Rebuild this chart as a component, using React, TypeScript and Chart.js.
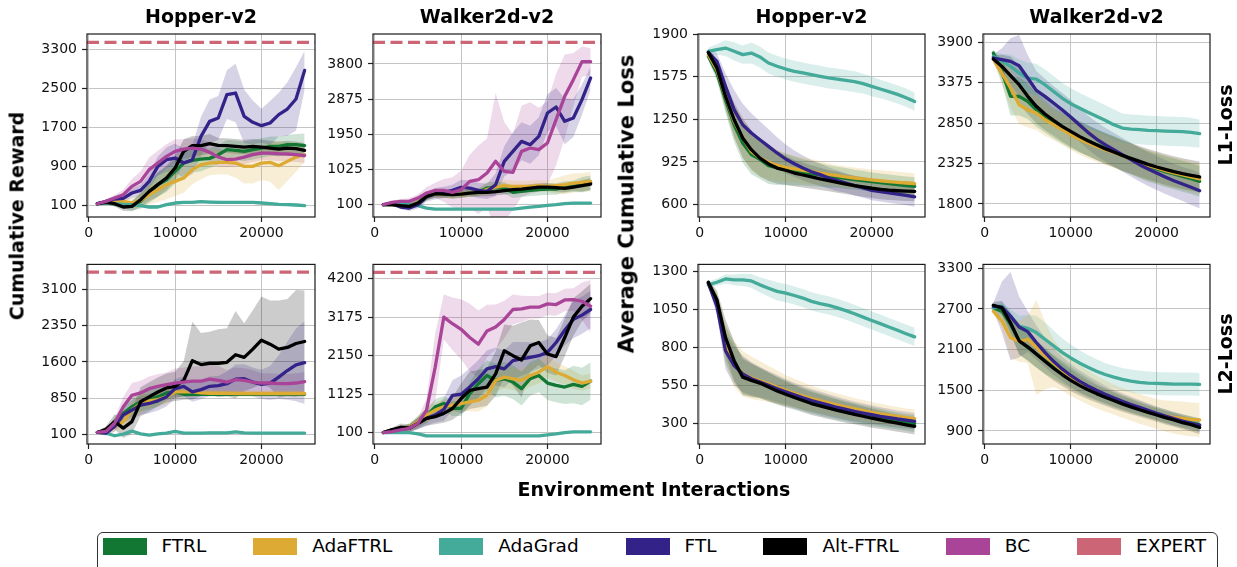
import React, { useEffect, useRef } from "react";
import { Chart, registerables } from "chart.js";

Chart.register(...registerables);
Chart.defaults.font.family = "'DejaVu Sans', sans-serif";

// ---------------- DATA ----------------
const X = [1000, 2000, 3000, 4000, 5000, 6000, 7000, 8000, 9000, 10000, 11000, 12000, 13000, 14000, 15000, 16000, 17000, 18000, 19000, 20000, 21000, 22000, 23000, 24000, 25000];
const X_MIN = -200;
const X_MAX = 26200;
const X_TICKS = [0, 10000, 20000];

const HOPPER_EXPERT = 3450;
const WALKER_EXPERT = 4370;

// Panel A: Hopper reward, L1-loss row
const A_TICKS = [100, 900, 1700, 2500, 3300];
const A_FTRL = [140, 168, 141, 120, 100, 189, 360, 531, 633, 804, 975, 1030, 1057, 1071, 1146, 1249, 1235, 1215, 1249, 1283, 1317, 1317, 1351, 1351, 1331];
const A_ADAFTRL = [140, 155, 168, 189, 155, 209, 326, 428, 531, 599, 668, 839, 941, 975, 989, 989, 975, 907, 907, 975, 989, 921, 1009, 1098, 1146];
const A_ADAGRAD = [140, 155, 141, 127, 120, 100, 73, 73, 120, 155, 168, 168, 182, 175, 170, 168, 168, 168, 168, 155, 141, 127, 120, 114, 100];
const A_FTL = [140, 190, 237, 250, 360, 415, 600, 907, 1044, 1078, 975, 1044, 1522, 1830, 1898, 2377, 2411, 1933, 1810, 1741, 1796, 1967, 2083, 2288, 2876];
const A_ALT = [140, 168, 141, 73, 86, 223, 394, 531, 668, 873, 1215, 1331, 1331, 1372, 1338, 1331, 1317, 1303, 1317, 1303, 1283, 1262, 1283, 1269, 1235];
const A_BC = [140, 189, 257, 326, 497, 599, 839, 975, 1112, 1215, 1262, 1283, 1262, 1194, 1098, 1044, 1057, 1098, 1146, 1180, 1180, 1167, 1160, 1146, 1126];
const A_FTRL_SD = [20, 40, 60, 80, 100, 150, 200, 250, 250, 250, 250, 250, 250, 200, 200, 200, 200, 200, 200, 200, 200, 200, 200, 220, 250];
const A_ADAFTRL_SD = [20, 40, 60, 80, 100, 150, 200, 250, 300, 300, 300, 300, 300, 250, 250, 250, 300, 350, 350, 350, 400, 500, 400, 300, 150];
const A_ADAGRAD_SD = [10, 20, 30, 30, 30, 30, 30, 30, 30, 30, 30, 30, 30, 30, 30, 30, 30, 30, 30, 30, 30, 30, 30, 30, 30];
const A_FTL_SD = [20, 40, 60, 80, 100, 120, 150, 200, 250, 300, 300, 300, 400, 450, 450, 500, 600, 550, 450, 350, 450, 450, 550, 650, 400];
const A_ALT_SD = [20, 40, 60, 80, 100, 150, 200, 250, 250, 250, 250, 200, 200, 200, 150, 150, 150, 150, 150, 150, 150, 150, 150, 150, 150];
const A_BC_SD = [20, 40, 60, 100, 150, 200, 250, 250, 250, 250, 200, 200, 200, 200, 200, 150, 150, 150, 150, 150, 150, 150, 150, 150, 150];

// Panel B: Walker2d reward, L1-loss row
const B_TICKS = [100, 1025, 1950, 2875, 3800];
const B_FTRL = [100, 100, 74, 56, 144, 319, 389, 381, 363, 381, 407, 424, 538, 556, 538, 424, 451, 477, 495, 512, 512, 565, 582, 626, 670];
const B_ADAFTRL = [100, 100, 74, 56, 144, 319, 389, 381, 363, 381, 407, 424, 495, 565, 600, 582, 582, 582, 600, 582, 600, 626, 670, 687, 714];
const B_ADAGRAD = [100, 100, 100, 100, 74, 12, -14, -14, -14, -14, -14, -14, -14, -14, -14, -14, 12, 39, 56, 83, 100, 126, 144, 144, 144];
const B_FTL = [100, 126, 39, 12, 100, 302, 389, 424, 477, 556, 538, 477, 451, 626, 1240, 1503, 1766, 1678, 1898, 2511, 2669, 2292, 2380, 2862, 3432];
const B_ALT = [100, 100, 74, 56, 144, 319, 389, 381, 363, 381, 407, 424, 424, 442, 468, 495, 512, 538, 565, 565, 547, 530, 565, 600, 644];
const B_BC = [100, 161, 188, 188, 275, 407, 477, 477, 424, 495, 714, 758, 933, 1240, 977, 950, 1503, 1591, 1547, 1722, 2336, 2950, 3388, 3861, 3861];
const B_FTRL_SD = [20, 40, 60, 80, 100, 100, 100, 100, 100, 100, 100, 100, 150, 150, 150, 150, 150, 150, 150, 150, 150, 150, 150, 200, 200];
const B_ADAFTRL_SD = [20, 40, 60, 80, 100, 100, 100, 100, 100, 100, 100, 100, 150, 150, 150, 150, 150, 150, 150, 150, 200, 250, 250, 250, 250];
const B_ADAGRAD_SD = [20, 20, 20, 20, 20, 20, 20, 20, 20, 20, 20, 20, 20, 20, 20, 20, 20, 20, 20, 20, 20, 20, 20, 20, 20];
const B_FTL_SD = [20, 40, 60, 80, 100, 120, 150, 150, 150, 200, 200, 200, 200, 300, 400, 500, 500, 500, 500, 500, 500, 600, 500, 400, 300];
const B_ALT_SD = [20, 40, 60, 80, 100, 100, 100, 100, 100, 100, 100, 100, 100, 100, 100, 100, 100, 100, 100, 100, 100, 100, 100, 150, 150];
const B_BC_SD = [20, 40, 60, 80, 100, 150, 200, 300, 400, 500, 700, 900, 900, 1800, 1300, 1000, 1200, 1200, 1100, 1100, 1200, 1100, 700, 400, 350];

// Panel C: Hopper reward, L2-loss row
const C_TICKS = [100, 850, 1600, 2350, 3100];
const C_FTRL = [148, 168, 371, 541, 677, 779, 826, 880, 962, 982, 935, 935, 935, 935, 935, 935, 935, 935, 935, 935, 935, 935, 935, 935, 935];
const C_ADAFTRL = [148, 134, 270, 371, 609, 745, 799, 826, 880, 982, 982, 982, 962, 955, 955, 955, 950, 950, 950, 950, 950, 950, 950, 950, 950];
const C_ADAGRAD = [148, 134, 80, 114, 175, 120, 93, 120, 134, 168, 134, 134, 134, 140, 140, 140, 161, 140, 134, 134, 134, 134, 134, 134, 134];
const C_FTL = [148, 134, 270, 507, 609, 711, 745, 799, 880, 1050, 1098, 982, 1030, 1098, 1111, 1152, 1247, 1254, 1186, 1138, 1166, 1288, 1423, 1539, 1586];
const C_ALT = [148, 215, 371, 236, 371, 779, 880, 982, 1064, 1098, 1220, 1627, 1546, 1573, 1573, 1593, 1749, 1695, 1865, 2048, 1966, 1865, 1898, 1980, 2021];
const C_BC = [148, 168, 338, 677, 914, 962, 1050, 1098, 1132, 1166, 1186, 1206, 1206, 1247, 1220, 1186, 1234, 1220, 1186, 1166, 1166, 1152, 1152, 1166, 1193];
const C_FTRL_SD = [20, 40, 100, 150, 200, 200, 200, 200, 150, 100, 60, 50, 40, 40, 40, 40, 40, 40, 40, 40, 40, 40, 40, 40, 40];
const C_ADAFTRL_SD = [20, 40, 100, 150, 200, 200, 150, 150, 150, 100, 80, 60, 60, 60, 60, 60, 60, 60, 60, 60, 60, 60, 60, 60, 60];
const C_ADAGRAD_SD = [20, 20, 20, 20, 20, 20, 20, 20, 20, 20, 20, 20, 20, 20, 20, 20, 20, 20, 20, 20, 20, 20, 20, 20, 20];
const C_FTL_SD = [20, 50, 100, 150, 200, 200, 200, 200, 200, 200, 200, 200, 200, 200, 200, 250, 300, 300, 300, 300, 350, 450, 600, 750, 850];
const C_ALT_SD = [20, 60, 150, 200, 250, 300, 300, 300, 300, 300, 400, 800, 650, 650, 700, 700, 900, 700, 800, 900, 900, 1000, 1000, 1100, 1050];
const C_BC_SD = [20, 50, 100, 200, 250, 250, 250, 250, 250, 300, 300, 300, 300, 300, 300, 250, 250, 250, 250, 200, 200, 200, 200, 200, 200];

// Panel D: Walker2d reward, L2-loss row
const D_TICKS = [100, 1125, 2150, 3175, 4200];
const D_FTRL = [100, 170, 188, 241, 390, 540, 786, 874, 742, 742, 1138, 1402, 1622, 1490, 1534, 1446, 1270, 1534, 1622, 1420, 1358, 1314, 1384, 1331, 1472];
const D_ADAFTRL = [100, 170, 188, 241, 390, 566, 698, 786, 830, 874, 918, 962, 1094, 1490, 1578, 1534, 1490, 1622, 1710, 1860, 1710, 1622, 1508, 1420, 1472];
const D_ADAGRAD = [100, 100, 100, 100, 65, 12, 12, 12, 12, 12, 12, 12, 12, 12, 12, 12, 12, 12, 12, 38, 65, 100, 118, 118, 118];
const D_FTL = [100, 170, 188, 214, 346, 478, 566, 716, 1094, 1121, 1314, 1534, 1798, 1860, 1798, 2018, 2062, 2106, 2150, 2238, 2502, 2827, 3118, 3232, 3382];
const D_ALT = [100, 170, 241, 214, 346, 478, 522, 610, 742, 1006, 1226, 1270, 1314, 1666, 2282, 2150, 2036, 2414, 2502, 2194, 2124, 2634, 3179, 3470, 3672];
const D_BC = [100, 126, 170, 214, 346, 698, 1842, 3179, 3003, 2854, 2634, 2458, 2810, 2915, 3118, 3382, 3399, 3443, 3443, 3531, 3514, 3637, 3646, 3602, 3470];
const D_FTRL_SD = [20, 50, 80, 100, 150, 200, 200, 200, 200, 200, 300, 400, 400, 450, 450, 450, 450, 450, 450, 450, 450, 450, 500, 500, 500];
const D_ADAFTRL_SD = [20, 50, 80, 100, 150, 200, 200, 200, 200, 200, 250, 300, 300, 300, 300, 300, 300, 300, 300, 300, 250, 250, 250, 200, 200];
const D_ADAGRAD_SD = [20, 20, 20, 20, 20, 20, 20, 20, 20, 20, 20, 20, 20, 20, 20, 20, 20, 20, 20, 20, 20, 20, 20, 20, 20];
const D_FTL_SD = [20, 50, 80, 100, 150, 200, 200, 300, 400, 500, 500, 500, 500, 500, 500, 500, 450, 400, 350, 350, 350, 400, 500, 500, 500];
const D_ALT_SD = [20, 60, 100, 100, 150, 200, 200, 250, 300, 400, 500, 500, 500, 600, 700, 800, 1000, 700, 600, 500, 500, 500, 500, 400, 400];
const D_BC_SD = [20, 50, 80, 100, 150, 300, 900, 600, 700, 800, 900, 900, 700, 600, 500, 400, 350, 300, 300, 300, 300, 300, 300, 500, 700];

// Panel E: Hopper average cumulative L1 loss
const E_TICKS = [600, 925, 1250, 1575, 1900];
const E_FTRL = [1730, 1603, 1400, 1209, 1070, 981, 945, 897, 879, 867, 856, 846, 836, 826, 816, 808, 800, 790, 783, 775, 768, 760, 752, 745, 739];
const E_ADAFTRL = [1743, 1628, 1425, 1235, 1110, 1006, 955, 922, 900, 884, 872, 862, 851, 841, 831, 821, 811, 803, 796, 788, 782, 776, 770, 765, 760];
const E_ADAGRAD = [1768, 1781, 1793, 1768, 1743, 1755, 1725, 1679, 1654, 1633, 1616, 1603, 1590, 1578, 1565, 1557, 1547, 1537, 1522, 1501, 1481, 1461, 1440, 1415, 1385];
const E_FTL = [1760, 1692, 1501, 1324, 1209, 1146, 1095, 1044, 994, 948, 912, 879, 851, 829, 803, 783, 765, 745, 727, 709, 700, 690, 680, 670, 660];
const E_ALT = [1760, 1641, 1425, 1247, 1108, 1019, 955, 910, 879, 862, 841, 826, 811, 796, 783, 770, 757, 745, 735, 725, 717, 710, 706, 703, 701];
const E_FTRL_SD = [30, 60, 100, 130, 150, 150, 150, 140, 130, 120, 110, 100, 95, 90, 85, 80, 80, 75, 75, 70, 70, 70, 70, 70, 70];
const E_ADAFTRL_SD = [30, 60, 100, 130, 150, 150, 140, 130, 120, 110, 100, 100, 95, 90, 85, 80, 80, 80, 80, 80, 80, 80, 80, 80, 80];
const E_ADAGRAD_SD = [30, 40, 60, 70, 70, 80, 80, 80, 80, 80, 80, 80, 80, 80, 80, 80, 80, 80, 75, 75, 70, 70, 70, 70, 70];
const E_FTL_SD = [30, 60, 100, 150, 160, 150, 140, 130, 120, 110, 100, 95, 90, 85, 80, 80, 75, 75, 75, 75, 75, 75, 75, 75, 75];
const E_ALT_SD = [30, 60, 100, 130, 150, 150, 140, 130, 120, 110, 100, 95, 90, 85, 80, 80, 75, 75, 75, 75, 75, 75, 75, 75, 75];

// Panel F: Walker2d average cumulative L1 loss
const F_TICKS = [1800, 2325, 2850, 3375, 3900];
const F_FTRL = [3761, 3523, 3199, 3199, 3134, 3025, 2939, 2852, 2787, 2722, 2670, 2623, 2571, 2528, 2484, 2428, 2385, 2333, 2289, 2255, 2220, 2190, 2159, 2129, 2094];
const F_ADAFTRL = [3684, 3502, 3307, 3090, 3025, 2982, 2895, 2831, 2766, 2701, 2644, 2592, 2549, 2506, 2471, 2428, 2385, 2341, 2302, 2268, 2233, 2203, 2177, 2151, 2125];
const F_ADAGRAD = [3718, 3653, 3588, 3502, 3437, 3424, 3350, 3264, 3177, 3103, 3047, 2991, 2939, 2887, 2831, 2787, 2774, 2766, 2757, 2753, 2748, 2744, 2740, 2731, 2714];
const F_FTL = [3697, 3675, 3653, 3597, 3437, 3277, 3199, 3112, 3025, 2930, 2831, 2731, 2644, 2571, 2506, 2441, 2376, 2311, 2255, 2203, 2151, 2103, 2060, 2017, 1973];
const F_ALT = [3684, 3588, 3467, 3350, 3199, 3069, 2969, 2887, 2809, 2744, 2679, 2623, 2571, 2519, 2476, 2432, 2393, 2354, 2315, 2281, 2250, 2220, 2194, 2172, 2151];
const F_FTRL_SD = [50, 150, 250, 250, 230, 220, 210, 200, 200, 200, 200, 200, 200, 200, 200, 200, 200, 200, 200, 200, 200, 200, 200, 200, 200];
const F_ADAFTRL_SD = [50, 150, 250, 250, 230, 220, 210, 200, 200, 200, 200, 200, 200, 200, 200, 200, 200, 200, 200, 200, 200, 200, 200, 200, 200];
const F_ADAGRAD_SD = [50, 100, 150, 180, 200, 200, 200, 200, 200, 200, 200, 200, 200, 200, 200, 190, 190, 190, 190, 190, 190, 190, 190, 190, 180];
const F_FTL_SD = [50, 150, 300, 400, 300, 250, 230, 220, 220, 220, 220, 220, 220, 220, 220, 220, 220, 220, 220, 220, 220, 220, 220, 230, 230];
const F_ALT_SD = [50, 150, 250, 250, 230, 220, 210, 200, 200, 200, 200, 200, 200, 200, 200, 200, 200, 200, 200, 200, 200, 200, 200, 200, 200];

// Panel G: Hopper average cumulative L2 loss
const G_TICKS = [300, 550, 800, 1050, 1300];
const G_FTRL = [1224, 1090, 820, 700, 615, 588, 566, 542, 518, 498, 478, 458, 440, 424, 409, 394, 381, 368, 356, 345, 335, 325, 315, 306, 298];
const G_ADAFTRL = [1224, 1104, 822, 691, 626, 600, 580, 560, 538, 517, 498, 480, 463, 448, 434, 420, 407, 395, 383, 372, 362, 353, 345, 337, 330];
const G_ADAGRAD = [1213, 1230, 1252, 1246, 1246, 1239, 1213, 1191, 1170, 1159, 1143, 1126, 1104, 1089, 1078, 1061, 1043, 1022, 1000, 978, 957, 935, 913, 891, 870];
const G_FTL = [1224, 1072, 778, 680, 626, 594, 572, 550, 528, 507, 487, 467, 450, 435, 420, 404, 391, 378, 367, 357, 346, 337, 328, 321, 313];
const G_ALT = [1230, 1115, 865, 713, 604, 583, 565, 539, 513, 491, 470, 450, 430, 415, 400, 385, 372, 359, 346, 333, 322, 311, 300, 290, 280];
const G_FTRL_SD = [20, 60, 120, 130, 120, 110, 100, 95, 90, 85, 80, 78, 76, 74, 72, 70, 68, 66, 64, 62, 60, 58, 56, 55, 55];
const G_ADAFTRL_SD = [20, 60, 130, 150, 150, 140, 130, 120, 110, 100, 95, 90, 85, 80, 78, 76, 74, 72, 70, 68, 66, 64, 62, 60, 60];
const G_ADAGRAD_SD = [20, 25, 30, 35, 40, 45, 50, 55, 60, 60, 60, 60, 60, 60, 60, 60, 60, 60, 60, 60, 60, 60, 60, 60, 60];
const G_FTL_SD = [20, 60, 120, 130, 120, 110, 100, 95, 90, 85, 80, 78, 76, 74, 72, 70, 68, 66, 64, 62, 60, 58, 56, 55, 55];
const G_ALT_SD = [20, 60, 120, 130, 120, 110, 100, 95, 90, 85, 80, 78, 76, 74, 72, 70, 68, 66, 64, 62, 60, 58, 56, 55, 55];

// Panel H: Walker2d average cumulative L2 loss
const H_TICKS = [900, 1500, 2100, 2700, 3300];
const H_FTRL = [2716, 2667, 2472, 2229, 2132, 2034, 1937, 1849, 1766, 1684, 1606, 1538, 1474, 1421, 1367, 1319, 1275, 1231, 1192, 1153, 1114, 1080, 1046, 1017, 988];
const H_ADAFTRL = [2667, 2521, 2278, 2219, 2253, 2132, 2010, 1898, 1791, 1693, 1611, 1538, 1474, 1416, 1362, 1314, 1270, 1226, 1187, 1148, 1119, 1100, 1085, 1070, 1061];
const H_ADAGRAD = [2716, 2740, 2594, 2448, 2414, 2351, 2253, 2156, 2059, 1976, 1903, 1840, 1781, 1732, 1693, 1659, 1635, 1616, 1606, 1601, 1596, 1591, 1591, 1591, 1586];
const H_FTL = [2740, 2726, 2594, 2433, 2365, 2205, 2059, 1927, 1815, 1718, 1635, 1562, 1499, 1440, 1387, 1338, 1289, 1246, 1202, 1158, 1119, 1080, 1046, 1012, 983];
const H_ALT = [2755, 2716, 2497, 2229, 2141, 2034, 1927, 1825, 1732, 1645, 1572, 1508, 1450, 1397, 1348, 1299, 1255, 1212, 1173, 1134, 1095, 1061, 1022, 992, 949];
const H_FTRL_SD = [50, 100, 150, 200, 200, 200, 190, 180, 170, 160, 150, 140, 130, 125, 120, 115, 110, 105, 100, 100, 100, 100, 100, 100, 100];
const H_ADAFTRL_SD = [50, 100, 300, 300, 350, 700, 500, 350, 300, 280, 260, 250, 240, 230, 220, 220, 220, 220, 220, 220, 230, 240, 250, 250, 250];
const H_ADAGRAD_SD = [50, 60, 100, 150, 200, 250, 250, 230, 210, 200, 190, 180, 175, 170, 170, 170, 170, 170, 170, 170, 170, 170, 170, 170, 170];
const H_FTL_SD = [50, 380, 650, 450, 300, 250, 220, 200, 180, 170, 160, 150, 140, 130, 125, 120, 115, 110, 105, 100, 100, 100, 100, 100, 100];
const H_ALT_SD = [50, 100, 150, 200, 200, 200, 190, 180, 170, 160, 150, 140, 130, 125, 120, 115, 110, 105, 100, 100, 100, 100, 100, 100, 100];

// ---------------- STYLE ----------------
const C_FTRL_COL = "#117733";
const C_ADAFTRL_COL = "#DDAA33";
const C_ADAGRAD_COL = "#44AA99";
const C_FTL_COL = "#332288";
const C_ALT_COL = "#000000";
const C_BC_COL = "#AA4499";
const C_EXPERT_COL = "#CC6677";

const LEGEND = [
  { label: "FTRL", color: C_FTRL_COL },
  { label: "AdaFTRL", color: C_ADAFTRL_COL },
  { label: "AdaGrad", color: C_ADAGRAD_COL },
  { label: "FTL", color: C_FTL_COL },
  { label: "Alt-FTRL", color: C_ALT_COL },
  { label: "BC", color: C_BC_COL },
  { label: "EXPERT", color: C_EXPERT_COL },
];

type Series = { color: string; mean: number[]; sd: number[] };
type Panel = {
  title?: string;
  yMin: number;
  yMax: number;
  ticks: number[];
  expert?: number;
  series: Series[];
  col: number;
  row: number;
};

const COLS = [
  [87, 315],
  [373, 601],
  [698, 925],
  [983, 1210],
];
const ROWS = [
  [34, 217],
  [263, 444],
];

const PANELS: Panel[] = [
  {
    title: "Hopper-v2", yMin: -132, yMax: 3622, ticks: A_TICKS, expert: HOPPER_EXPERT, col: 0, row: 0,
    series: [
      { color: C_FTRL_COL, mean: A_FTRL, sd: A_FTRL_SD },
      { color: C_ADAFTRL_COL, mean: A_ADAFTRL, sd: A_ADAFTRL_SD },
      { color: C_ADAGRAD_COL, mean: A_ADAGRAD, sd: A_ADAGRAD_SD },
      { color: C_FTL_COL, mean: A_FTL, sd: A_FTL_SD },
      { color: C_ALT_COL, mean: A_ALT, sd: A_ALT_SD },
      { color: C_BC_COL, mean: A_BC, sd: A_BC_SD },
    ],
  },
  {
    title: "Walker2d-v2", yMin: -223, yMax: 4588, ticks: B_TICKS, expert: WALKER_EXPERT, col: 1, row: 0,
    series: [
      { color: C_FTRL_COL, mean: B_FTRL, sd: B_FTRL_SD },
      { color: C_ADAFTRL_COL, mean: B_ADAFTRL, sd: B_ADAFTRL_SD },
      { color: C_ADAGRAD_COL, mean: B_ADAGRAD, sd: B_ADAGRAD_SD },
      { color: C_FTL_COL, mean: B_FTL, sd: B_FTL_SD },
      { color: C_ALT_COL, mean: B_ALT, sd: B_ALT_SD },
      { color: C_BC_COL, mean: B_BC, sd: B_BC_SD },
    ],
  },
  {
    yMin: -90, yMax: 3609, ticks: C_TICKS, expert: HOPPER_EXPERT, col: 0, row: 1,
    series: [
      { color: C_FTRL_COL, mean: C_FTRL, sd: C_FTRL_SD },
      { color: C_ADAFTRL_COL, mean: C_ADAFTRL, sd: C_ADAFTRL_SD },
      { color: C_ADAGRAD_COL, mean: C_ADAGRAD, sd: C_ADAGRAD_SD },
      { color: C_FTL_COL, mean: C_FTL, sd: C_FTL_SD },
      { color: C_ALT_COL, mean: C_ALT, sd: C_ALT_SD },
      { color: C_BC_COL, mean: C_BC, sd: C_BC_SD },
    ],
  },
  {
    yMin: -206, yMax: 4585, ticks: D_TICKS, expert: WALKER_EXPERT, col: 1, row: 1,
    series: [
      { color: C_FTRL_COL, mean: D_FTRL, sd: D_FTRL_SD },
      { color: C_ADAFTRL_COL, mean: D_ADAFTRL, sd: D_ADAFTRL_SD },
      { color: C_ADAGRAD_COL, mean: D_ADAGRAD, sd: D_ADAGRAD_SD },
      { color: C_FTL_COL, mean: D_FTL, sd: D_FTL_SD },
      { color: C_ALT_COL, mean: D_ALT, sd: D_ALT_SD },
      { color: C_BC_COL, mean: D_BC, sd: D_BC_SD },
    ],
  },
  {
    title: "Hopper-v2", yMin: 506, yMax: 1900, ticks: E_TICKS, col: 2, row: 0,
    series: [
      { color: C_FTRL_COL, mean: E_FTRL, sd: E_FTRL_SD },
      { color: C_ADAFTRL_COL, mean: E_ADAFTRL, sd: E_ADAFTRL_SD },
      { color: C_ADAGRAD_COL, mean: E_ADAGRAD, sd: E_ADAGRAD_SD },
      { color: C_FTL_COL, mean: E_FTL, sd: E_FTL_SD },
      { color: C_ALT_COL, mean: E_ALT, sd: E_ALT_SD },
    ],
  },
  {
    title: "Walker2d-v2", yMin: 1631, yMax: 4009, ticks: F_TICKS, col: 3, row: 0,
    series: [
      { color: C_FTRL_COL, mean: F_FTRL, sd: F_FTRL_SD },
      { color: C_ADAFTRL_COL, mean: F_ADAFTRL, sd: F_ADAFTRL_SD },
      { color: C_ADAGRAD_COL, mean: F_ADAGRAD, sd: F_ADAGRAD_SD },
      { color: C_FTL_COL, mean: F_FTL, sd: F_FTL_SD },
      { color: C_ALT_COL, mean: F_ALT, sd: F_ALT_SD },
    ],
  },
  {
    yMin: 163, yMax: 1348, ticks: G_TICKS, col: 2, row: 1,
    series: [
      { color: C_FTRL_COL, mean: G_FTRL, sd: G_FTRL_SD },
      { color: C_ADAFTRL_COL, mean: G_ADAFTRL, sd: G_ADAFTRL_SD },
      { color: C_ADAGRAD_COL, mean: G_ADAGRAD, sd: G_ADAGRAD_SD },
      { color: C_FTL_COL, mean: G_FTL, sd: G_FTL_SD },
      { color: C_ALT_COL, mean: G_ALT, sd: G_ALT_SD },
    ],
  },
  {
    yMin: 706, yMax: 3358, ticks: H_TICKS, col: 3, row: 1,
    series: [
      { color: C_FTRL_COL, mean: H_FTRL, sd: H_FTRL_SD },
      { color: C_ADAFTRL_COL, mean: H_ADAFTRL, sd: H_ADAFTRL_SD },
      { color: C_ADAGRAD_COL, mean: H_ADAGRAD, sd: H_ADAGRAD_SD },
      { color: C_FTL_COL, mean: H_FTL, sd: H_FTL_SD },
      { color: C_ALT_COL, mean: H_ALT, sd: H_ALT_SD },
    ],
  },
];

function rgba(hex: string, a: number) {
  const n = parseInt(hex.slice(1), 16);
  return `rgba(${(n >> 16) & 255},${(n >> 8) & 255},${n & 255},${a})`;
}

const AXIS_W = 60;
const AXIS_H = 30;
const PAD_R = 10;
const TITLE_H = 27;

const framePlugin = {
  id: "frame",
  afterDatasetsDraw(chart: any) {
    const { ctx, chartArea } = chart;
    ctx.save();
    ctx.strokeStyle = "#1a1a1a";
    ctx.lineWidth = 1.2;
    ctx.strokeRect(chartArea.left, chartArea.top, chartArea.right - chartArea.left, chartArea.bottom - chartArea.top);
    ctx.restore();
  },
};

function PanelChart({ panel }: { panel: Panel }) {
  const ref = useRef<HTMLCanvasElement>(null);
  const [L, R] = COLS[panel.col];
  const [T, B] = ROWS[panel.row];
  const padTop = panel.title ? 2 : 12;
  const top = T - padTop - (panel.title ? TITLE_H : 0);
  const left = L - AXIS_W;
  const width = R + PAD_R - left;
  const height = B + AXIS_H - top;

  useEffect(() => {
    if (!ref.current) return;
    const datasets: any[] = [];
    panel.series.forEach((s) => {
      datasets.push({
        data: X.map((x, k) => ({ x, y: s.mean[k] - s.sd[k] })),
        borderWidth: 0, pointRadius: 0, fill: false, order: 100,
      });
      datasets.push({
        data: X.map((x, k) => ({ x, y: s.mean[k] + s.sd[k] })),
        borderWidth: 0, pointRadius: 0, fill: "-1", backgroundColor: rgba(s.color, 0.2), order: 100,
      });
    });
    panel.series.forEach((s, i) => {
      datasets.push({
        data: X.map((x, k) => ({ x, y: s.mean[k] })),
        borderColor: s.color, borderWidth: 3.3, pointRadius: 0, fill: false, tension: 0,
        borderJoinStyle: "round", borderCapStyle: "round", order: 20 - i,
      });
    });
    if (panel.expert !== undefined) {
      datasets.push({
        data: [{ x: X_MIN, y: panel.expert }, { x: X_MAX, y: panel.expert }],
        borderColor: C_EXPERT_COL, borderWidth: 3.3, borderDash: [12, 5.5], pointRadius: 0, fill: false, order: 0,
      });
    }
    const tickFont = { size: 14 };
    const grid = { color: "#c4c4c4", lineWidth: 1, tickLength: 5, tickColor: "#222", tickWidth: 1.2, drawTicks: true };
    const chart = new Chart(ref.current, {
      type: "line",
      data: { datasets },
      options: {
        animation: false,
        responsive: false,
        events: [],
        layout: { padding: { top: padTop, right: PAD_R, left: 0, bottom: 0 } },
        plugins: {
          legend: { display: false },
          tooltip: { enabled: false },
          filler: { drawTime: "beforeDatasetsDraw" },
          title: {
            display: !!panel.title,
            text: panel.title || "",
            color: "#000",
            fullSize: false,
            font: { size: 19, weight: "bold", lineHeight: "22px" },
            padding: { top: 0, bottom: 5 },
          },
        },
        scales: {
          x: {
            type: "linear", min: X_MIN, max: X_MAX,
            afterBuildTicks: (a: any) => { a.ticks = X_TICKS.map((v) => ({ value: v })); },
            afterFit: (s: any) => { s.height = AXIS_H; },
            ticks: { callback: (v: any) => String(v), font: tickFont, color: "#111", padding: 3, maxRotation: 0, autoSkip: false },
            grid, border: { display: false },
          },
          y: {
            type: "linear", min: panel.yMin, max: panel.yMax,
            afterBuildTicks: (a: any) => { a.ticks = panel.ticks.map((v) => ({ value: v })); },
            afterFit: (s: any) => { s.width = AXIS_W; },
            ticks: { callback: (v: any) => String(v), font: tickFont, color: "#111", padding: 5, autoSkip: false },
            grid, border: { display: false },
          },
        },
      } as any,
      plugins: [framePlugin],
    });
    return () => chart.destroy();
  }, []);

  return (
    <canvas
      ref={ref}
      width={width}
      height={height}
      style={{ position: "absolute", left, top, width, height }}
    />
  );
}

function VLabel({ text, x, y, size }: { text: string; x: number; y: number; size: number }) {
  return (
    <div
      style={{
        position: "absolute", left: x, top: y, transform: "translate(-50%, -50%) rotate(-90deg)",
        fontFamily: "'DejaVu Sans', sans-serif", fontWeight: "bold", fontSize: size, whiteSpace: "nowrap",
        color: "#000", lineHeight: 1,
      }}
    >
      {text}
    </div>
  );
}

export default function App() {
  return (
    <div style={{ position: "absolute", left: 0, top: 0, width: 1237, height: 567, overflow: "hidden", background: "#fff" }}>
      {PANELS.map((p, i) => (
        <PanelChart key={i} panel={p} />
      ))}
      <VLabel text="Cumulative Reward" x={17} y={216} size={19} />
      <VLabel text="Average Cumulative Loss" x={627} y={204} size={21} />
      <VLabel text="L1-Loss" x={1225} y={125} size={19} />
      <VLabel text="L2-Loss" x={1225} y={354} size={19} />
      <div
        style={{
          position: "absolute", left: 654, top: 489, transform: "translate(-50%, -50%)",
          fontFamily: "'DejaVu Sans', sans-serif", fontWeight: "bold", fontSize: 19, whiteSpace: "nowrap", lineHeight: 1,
        }}
      >
        Environment Interactions
      </div>
      <div
        style={{
          position: "absolute", left: 97, top: 532, width: 1121, height: 46, boxSizing: "border-box",
          border: "1.5px solid #333", borderRadius: 6,
        }}
      >
        <div
          style={{
            position: "absolute", left: 4.5, top: 3, height: 20, display: "flex", alignItems: "center", gap: 46.9,
            fontFamily: "'DejaVu Sans', sans-serif", fontSize: 18.5, whiteSpace: "nowrap", color: "#000",
          }}
        >
          {LEGEND.map((l) => (
            <div key={l.label} style={{ display: "flex", alignItems: "center" }}>
              <div style={{ width: 44, height: 17, background: l.color, marginRight: 15 }} />
              <span style={{ lineHeight: "20px" }}>{l.label}</span>
            </div>
          ))}
        </div>
      </div>
    </div>
  );
}
